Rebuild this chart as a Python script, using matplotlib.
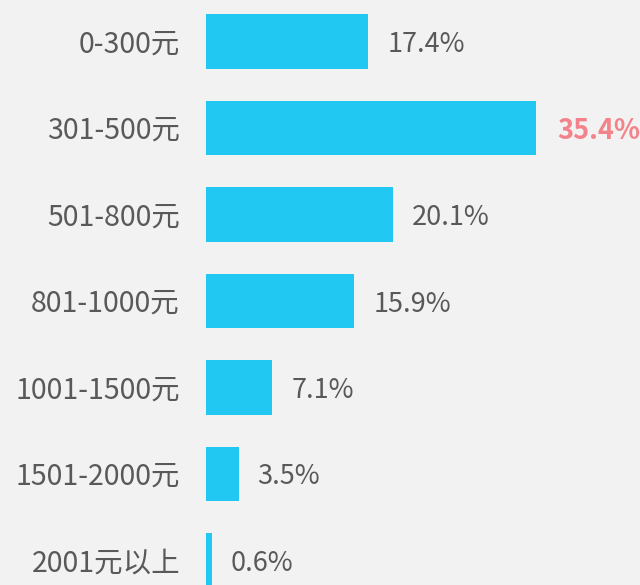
import matplotlib
matplotlib.use("Agg")
import matplotlib.pyplot as plt

# Price bands and their share of respondents (%)
Categories = ["0-300元", "301-500元", "501-800元", "801-1000元",
              "1001-1500元", "1501-2000元", "2001元以上"]
Shares = [17.4, 35.4, 20.1, 15.9, 7.1, 3.5, 0.6]

BarColor = "#20c8f2"
TextColor = "#595959"
HighColor = "#f4828a"
BgColor = "#f2f2f2"

plt.rcParams["font.family"] = ["Noto Sans CJK SC", "DejaVu Sans"]

fig = plt.figure(figsize=(6.4, 5.85), dpi=100, facecolor=BgColor)
ax = fig.add_axes([206 / 640, 0, 1 - 206 / 640, 1])
ax.set_facecolor(BgColor)

ypos = list(range(len(Categories)))
ax.barh(ypos, Shares, height=0.635, color=BarColor, align="center")

# Pixel-based limits: 9.32 px per percent, 86.5 px per bar
ax.set_xlim(0, (640 - 206) / 9.32)
ax.set_ylim((585 - 41.5) / 86.5, -41.5 / 86.5)

MaxShare = max(Shares)
for i, (cat, val) in enumerate(zip(Categories, Shares)):
    # category label left of the bars
    ax.annotate(cat, xy=(0, i), xytext=(-26, -3), textcoords="offset pixels",
                ha="right", va="center", fontsize=20.5, color=TextColor,
                annotation_clip=False)
    # value label right of the bar
    if val == MaxShare:
        ax.annotate("%.1f%%" % val, xy=(val, i), xytext=(21, -3), textcoords="offset pixels",
                    ha="left", va="center", fontsize=19.5, color=HighColor,
                    fontweight="bold", annotation_clip=False)
    else:
        ax.annotate("%.1f%%" % val, xy=(val, i), xytext=(19, -3), textcoords="offset pixels",
                    ha="left", va="center", fontsize=19.5, color=TextColor,
                    annotation_clip=False)

ax.set_xticks([])
ax.set_yticks([])
for s in ax.spines.values():
    s.set_visible(False)

fig.savefig("out.png", dpi=100, facecolor=BgColor)
